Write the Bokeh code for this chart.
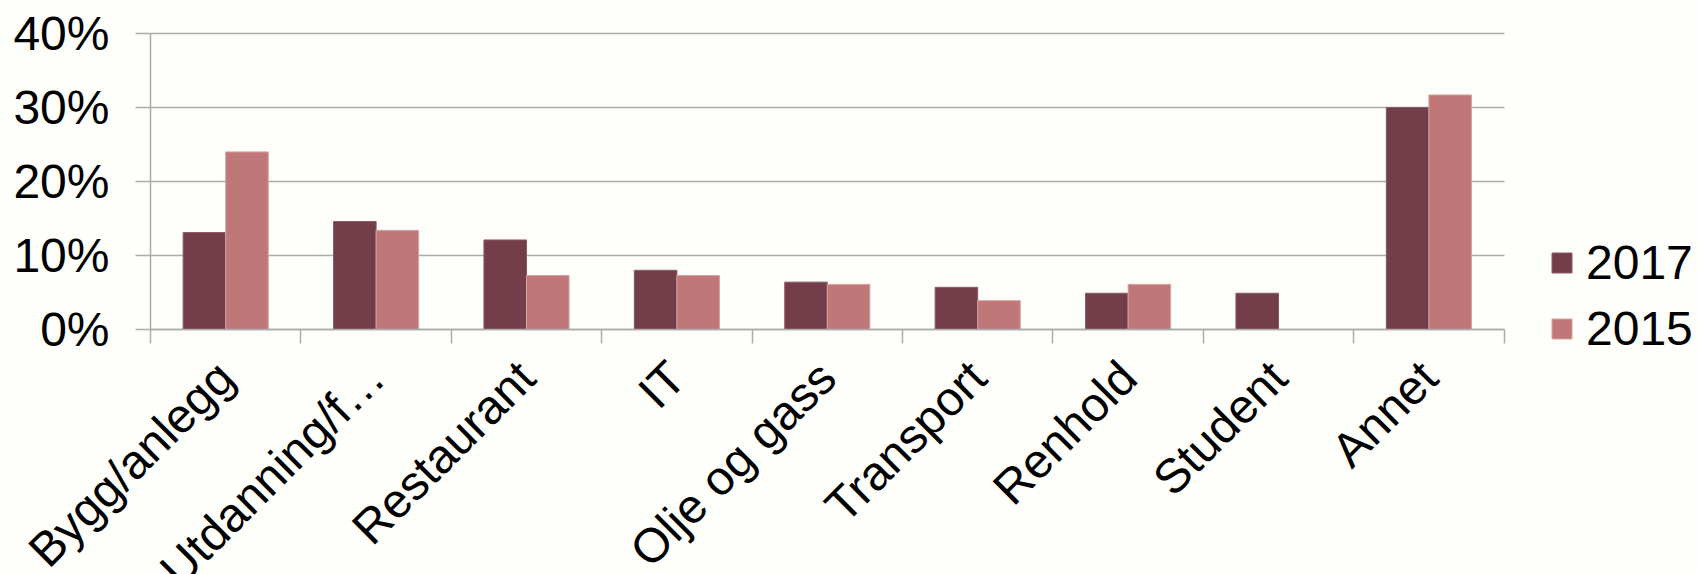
import math
from bokeh.plotting import figure
from bokeh.models import (Range1d, FixedTicker, NumeralTickFormatter, Legend, LegendItem,
                          ColumnDataSource)
from bokeh.embed import file_html
from bokeh.resources import INLINE

categories = ["Bygg/anlegg", "Utdanning/f\u2026", "Restaurant", "IT", "Olje og gass",
              "Transport", "Renhold", "Student", "Annet"]
series_names = ["2017", "2015"]
values_2017 = [0.131, 0.146, 0.121, 0.080, 0.064, 0.057, 0.049, 0.049, 0.300]
values_2015 = [0.240, 0.134, 0.073, 0.073, 0.061, 0.039, 0.061, 0.000, 0.317]
y_ticks = [0.0, 0.1, 0.2, 0.3, 0.4]

FONT = "Liberation Sans"
FS = "48px"
BG = "#FEFEFA"
GRID = "#ABABAB"
C2017 = "#733D4A"
C2015 = "#BF7877"

W, H = 1698, 574
LEFT = 150                      # category area starts 150 px from the left
CAT_PX = 150.4                  # horizontal pixels per category
PX_PER_UNIT = 740.0             # vertical pixels per 100 %
ZERO_FROM_BOTTOM = 245          # y=0 line sits 245 px above the canvas bottom
TOP_PAD = 33                    # y=40 % sits 33 px below the canvas top

n = len(categories)
bar_w = 0.283
centers = [i + 0.5 for i in range(n)]

x_start = -LEFT / CAT_PX
x_end = (W - LEFT) / CAT_PX
y_start = -ZERO_FROM_BOTTOM / PX_PER_UNIT
y_end = y_ticks[-1] + TOP_PAD / PX_PER_UNIT

p = figure(width=W, height=H, output_backend="svg", toolbar_location=None,
           x_range=Range1d(x_start, x_end), y_range=Range1d(y_start, y_end),
           min_border_left=0, min_border_right=0, min_border_top=0, min_border_bottom=0)
p.background_fill_color = BG
p.border_fill_color = BG
p.outline_line_color = None

src = ColumnDataSource(dict(
    x17=[c - bar_w / 2 for c in centers],
    x15=[c + bar_w / 2 for c in centers],
    v17=values_2017, v15=values_2015))

# horizontal grid lines limited to the category area
grid = p.ygrid[0]
grid.ticker = FixedTicker(ticks=y_ticks)
if "cross_bounds" in grid.properties():
    grid.cross_bounds = (0, n)
    grid.grid_line_color = GRID
    grid.grid_line_width = 1.5
else:
    grid.grid_line_color = None
    p.segment(x0=[0] * len(y_ticks), x1=[n] * len(y_ticks), y0=y_ticks, y1=y_ticks,
              line_color=GRID, line_width=1.5)
p.xgrid.grid_line_color = None

r17 = p.vbar(x="x17", top="v17", width=bar_w, bottom=0, source=src,
             fill_color=C2017, line_color="#8A5A66", line_width=1)
r15 = p.vbar(x="x15", top="v15", width=bar_w, bottom=0, source=src,
             fill_color=C2015, line_color="#D8A4A2", line_width=1)

# y axis fixed at x = 0
ya = p.yaxis[0]
ya.fixed_location = 0
ya.ticker = FixedTicker(ticks=y_ticks)
ya.bounds = (y_ticks[0], y_ticks[-1])
ya.formatter = NumeralTickFormatter(format="0%")
ya.major_label_text_font = FONT
ya.major_label_text_font_size = FS
ya.major_label_text_color = "#000000"
ya.major_tick_out = 15
ya.major_tick_in = 0
ya.major_tick_line_color = GRID
ya.major_tick_line_width = 1.5
ya.minor_tick_line_color = None
ya.axis_line_color = GRID
ya.axis_line_width = 1.5
ya.major_label_standoff = 26

# x axis fixed at y = 0, tick marks at category boundaries, labels at centres
xa = p.xaxis[0]
xa.fixed_location = 0
xa.bounds = (0, n)
xa.ticker = FixedTicker(ticks=centers, minor_ticks=list(range(n + 1)))
xa.major_label_overrides = {c: name for c, name in zip(centers, categories)}
xa.major_label_orientation = math.pi / 4
xa.major_label_text_font = FONT
xa.major_label_text_font_size = FS
xa.major_label_text_color = "#000000"
xa.major_label_standoff = 26
xa.major_tick_out = 0
xa.major_tick_in = 0
xa.major_tick_line_color = None
xa.minor_tick_out = 14
xa.minor_tick_in = 0
xa.minor_tick_line_color = GRID
xa.minor_tick_line_width = 1.5
xa.axis_line_color = GRID
xa.axis_line_width = 1.5

legend = Legend(items=[LegendItem(label=series_names[0], renderers=[r17]),
                       LegendItem(label=series_names[1], renderers=[r15])],
                location=(1549, 218), orientation="vertical",
                padding=0, margin=0, spacing=11, glyph_width=25, glyph_height=25,
                label_standoff=12, label_text_font=FONT, label_text_font_size=FS,
                label_text_color="#000000", border_line_color=None,
                background_fill_alpha=0)
p.add_layout(legend, "center")

open("out.html", "w").write(file_html(p, INLINE))
